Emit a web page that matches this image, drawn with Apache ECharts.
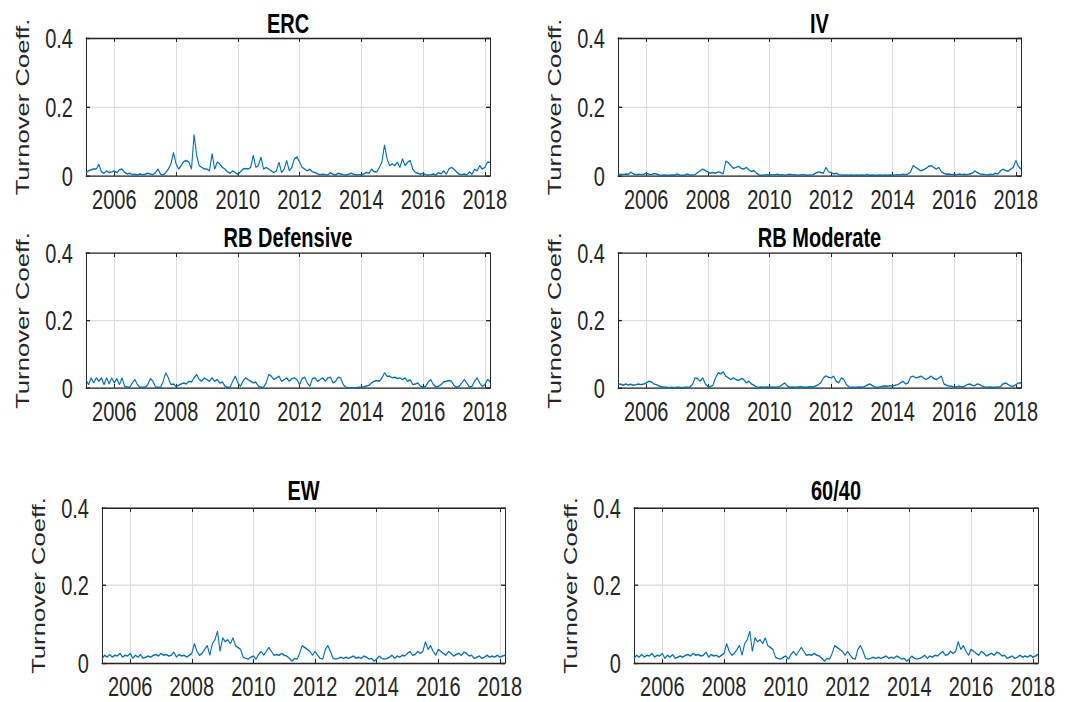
<!DOCTYPE html>
<html>
<head>
<meta charset="utf-8">
<title>Turnover Coefficient</title>
<script src="https://cdn.jsdelivr.net/npm/echarts@6/dist/echarts.min.js"></script>
<style>
  html { overflow: hidden; }
  html, body { margin: 0; padding: 0; background: #fff; width: 1065px; height: 702px; }
  /* the reference figure is stretched vertically, so lay out short and stretch */
  #main { width: 1065px; height: 520px; transform: scaleY(1.35); transform-origin: 0 0; }
</style>
</head>
<body>
<div id="main"></div>
<script>
// monthly turnover, first observation Feb 2005, last Mar 2018
const startYear = 2005;
const startMonth = 2;
const xMin = 2005 + 1 / 12;
const xMax = 2018 + 2 / 12;
const yTicks = [0, 0.2, 0.4];
const titles = ['ERC', 'IV', 'RB Defensive', 'RB Moderate', 'EW', '60/40'];
const yName = 'Turnover Coeff.';

const erc = [
  0.010, 0.015, 0.018, 0.020, 0.020, 0.034, 0.012, 0.008, 0.015, 0.010, 0.012,
  0.015, 0.010, 0.018, 0.020, 0.010, 0.006, 0.008, 0.004, 0.005, 0.003, 0.006, 0.004,
  0.005, 0.008, 0.006, 0.004, 0.010, 0.020, 0.005, 0.003, 0.010, 0.020, 0.035, 0.068,
  0.035, 0.020, 0.030, 0.042, 0.045, 0.040, 0.020, 0.120, 0.060, 0.030, 0.025, 0.020,
  0.020, 0.015, 0.065, 0.020, 0.040, 0.035, 0.025, 0.020, 0.012, 0.008, 0.015, 0.010,
  0.005, 0.012, 0.020, 0.022, 0.020, 0.025, 0.060, 0.025, 0.030, 0.055, 0.020, 0.025,
  0.020, 0.015, 0.010, 0.015, 0.040, 0.010, 0.020, 0.045, 0.015, 0.025, 0.050, 0.055,
  0.040, 0.025, 0.020, 0.015, 0.020, 0.012, 0.010, 0.006, 0.004, 0.005, 0.004, 0.003,
  0.010, 0.005, 0.003, 0.008, 0.006, 0.004, 0.003, 0.005, 0.008, 0.005, 0.003, 0.004,
  0.004, 0.006, 0.010, 0.008, 0.020, 0.012, 0.012, 0.025, 0.040, 0.090, 0.050, 0.030,
  0.035, 0.030, 0.040, 0.025, 0.050, 0.030, 0.040, 0.045, 0.020, 0.010, 0.008, 0.005,
  0.008, 0.004, 0.003, 0.004, 0.006, 0.003, 0.010, 0.006, 0.015, 0.005, 0.020, 0.025,
  0.020, 0.012, 0.005, 0.004, 0.006, 0.003, 0.012, 0.005, 0.020, 0.015, 0.030, 0.020,
  0.025, 0.040, 0.040
];

const iv = [
  0.004, 0.005, 0.004, 0.006, 0.005, 0.011, 0.006, 0.004, 0.005, 0.004, 0.005,
  0.008, 0.005, 0.004, 0.007, 0.006, 0.003, 0.002, 0.003, 0.002, 0.002, 0.003, 0.002,
  0.006, 0.003, 0.002, 0.002, 0.006, 0.002, 0.003, 0.004, 0.010, 0.015, 0.020, 0.016,
  0.012, 0.008, 0.010, 0.008, 0.012, 0.010, 0.006, 0.043, 0.038, 0.030, 0.022, 0.025,
  0.028, 0.022, 0.020, 0.025, 0.018, 0.013, 0.016, 0.008, 0.003, 0.002, 0.003, 0.004,
  0.003, 0.004, 0.003, 0.005, 0.003, 0.004, 0.002, 0.004, 0.005, 0.003, 0.004, 0.002,
  0.003, 0.004, 0.003, 0.002, 0.003, 0.004, 0.008, 0.012, 0.010, 0.008, 0.025, 0.012,
  0.010, 0.006, 0.008, 0.004, 0.003, 0.002, 0.003, 0.002, 0.003, 0.002, 0.003, 0.002,
  0.003, 0.002, 0.004, 0.002, 0.003, 0.002, 0.002, 0.003, 0.002, 0.003, 0.002, 0.003,
  0.002, 0.003, 0.004, 0.003, 0.005, 0.004, 0.006, 0.012, 0.030, 0.025, 0.020, 0.015,
  0.018, 0.022, 0.028, 0.030, 0.025, 0.020, 0.025, 0.012, 0.008, 0.005, 0.006, 0.004,
  0.005, 0.004, 0.006, 0.004, 0.005, 0.004, 0.006, 0.008, 0.015, 0.010, 0.006, 0.005,
  0.004, 0.003, 0.005, 0.004, 0.008, 0.006, 0.015, 0.020, 0.016, 0.014, 0.020, 0.025,
  0.045, 0.028, 0.020
];

const rbDefensive = [
  0.025, 0.010, 0.030, 0.015, 0.030, 0.020, 0.030, 0.010, 0.030, 0.012, 0.030,
  0.015, 0.028, 0.010, 0.030, 0.005, 0.003, 0.002, 0.015, 0.025, 0.010, 0.002, 0.002,
  0.002, 0.010, 0.028, 0.020, 0.003, 0.002, 0.002, 0.020, 0.045, 0.030, 0.010, 0.012,
  0.005, 0.008, 0.012, 0.015, 0.012, 0.020, 0.018, 0.030, 0.040, 0.025, 0.020, 0.030,
  0.025, 0.020, 0.030, 0.020, 0.025, 0.015, 0.018, 0.005, 0.002, 0.002, 0.020, 0.035,
  0.015, 0.005, 0.020, 0.030, 0.025, 0.020, 0.015, 0.018, 0.005, 0.002, 0.003, 0.015,
  0.040, 0.035, 0.025, 0.030, 0.035, 0.020, 0.025, 0.030, 0.020, 0.028, 0.030, 0.025,
  0.010, 0.028, 0.032, 0.015, 0.005, 0.028, 0.030, 0.020, 0.025, 0.030, 0.020, 0.030,
  0.032, 0.015, 0.020, 0.032, 0.030, 0.010, 0.002, 0.001, 0.001, 0.001, 0.001, 0.002,
  0.002, 0.004, 0.006, 0.008, 0.015, 0.020, 0.022, 0.020, 0.030, 0.045, 0.035, 0.035,
  0.030, 0.032, 0.028, 0.030, 0.025, 0.030, 0.020, 0.025, 0.010, 0.012, 0.015, 0.005,
  0.002, 0.005, 0.018, 0.025, 0.010, 0.003, 0.005, 0.010, 0.018, 0.020, 0.022, 0.020,
  0.008, 0.002, 0.005, 0.015, 0.025, 0.015, 0.003, 0.005, 0.020, 0.030, 0.015, 0.005,
  0.010, 0.025, 0.020
];

const rbModerate = [
  0.010, 0.012, 0.008, 0.012, 0.009, 0.011, 0.008, 0.010, 0.012, 0.010, 0.012,
  0.015, 0.020, 0.018, 0.012, 0.010, 0.006, 0.004, 0.002, 0.002, 0.001, 0.002, 0.001,
  0.002, 0.002, 0.001, 0.002, 0.002, 0.003, 0.010, 0.030, 0.028, 0.020, 0.030, 0.012,
  0.005, 0.004, 0.008, 0.030, 0.045, 0.042, 0.048, 0.035, 0.030, 0.025, 0.030, 0.025,
  0.022, 0.028, 0.025, 0.015, 0.020, 0.012, 0.008, 0.003, 0.002, 0.003, 0.002, 0.003,
  0.002, 0.003, 0.002, 0.003, 0.004, 0.010, 0.015, 0.005, 0.002, 0.003, 0.002, 0.003,
  0.004, 0.003, 0.002, 0.003, 0.004, 0.003, 0.006, 0.010, 0.015, 0.030, 0.036, 0.032,
  0.030, 0.035, 0.020, 0.015, 0.030, 0.025, 0.010, 0.003, 0.002, 0.002, 0.002, 0.003,
  0.002, 0.004, 0.008, 0.012, 0.008, 0.003, 0.002, 0.003, 0.005, 0.006, 0.005, 0.007,
  0.006, 0.008, 0.010, 0.015, 0.020, 0.012, 0.015, 0.033, 0.035, 0.030, 0.032, 0.035,
  0.030, 0.025, 0.030, 0.035, 0.028, 0.025, 0.030, 0.035, 0.012, 0.008, 0.006, 0.005,
  0.003, 0.004, 0.005, 0.003, 0.005, 0.010, 0.012, 0.008, 0.007, 0.012, 0.010, 0.005,
  0.003, 0.002, 0.003, 0.002, 0.002, 0.003, 0.004, 0.012, 0.015, 0.010, 0.006, 0.005,
  0.010, 0.015, 0.015
];

const ew = [
  0.010, 0.020, 0.015, 0.022, 0.015, 0.020, 0.018, 0.025, 0.015, 0.020, 0.018,
  0.025, 0.012, 0.020, 0.015, 0.022, 0.012, 0.015, 0.018, 0.015, 0.020, 0.022, 0.018,
  0.025, 0.020, 0.022, 0.018, 0.020, 0.028, 0.015, 0.022, 0.018, 0.020, 0.015, 0.020,
  0.025, 0.050, 0.030, 0.020, 0.025, 0.035, 0.045, 0.020, 0.050, 0.060, 0.082, 0.030,
  0.065, 0.055, 0.060, 0.050, 0.065, 0.045, 0.040, 0.035, 0.015, 0.012, 0.010, 0.015,
  0.018, 0.010, 0.022, 0.030, 0.020, 0.030, 0.040, 0.030, 0.020, 0.022, 0.020, 0.025,
  0.020, 0.018, 0.012, 0.005, 0.012, 0.010, 0.025, 0.045, 0.040, 0.035, 0.030, 0.020,
  0.030, 0.020, 0.012, 0.010, 0.035, 0.045, 0.030, 0.012, 0.010, 0.012, 0.015, 0.012,
  0.015, 0.012, 0.015, 0.018, 0.012, 0.015, 0.012, 0.018, 0.015, 0.010, 0.012, 0.005,
  0.010, 0.018, 0.012, 0.010, 0.012, 0.015, 0.020, 0.012, 0.018, 0.015, 0.020, 0.018,
  0.025, 0.030, 0.020, 0.022, 0.030, 0.025, 0.030, 0.055, 0.035, 0.045, 0.030, 0.020,
  0.035, 0.030, 0.025, 0.020, 0.030, 0.025, 0.018, 0.022, 0.025, 0.020, 0.028, 0.025,
  0.018, 0.020, 0.012, 0.015, 0.018, 0.012, 0.015, 0.020, 0.015, 0.018, 0.015, 0.020,
  0.015, 0.018, 0.020
];

const sixtyForty = [
  0.012, 0.020, 0.015, 0.022, 0.015, 0.020, 0.018, 0.025, 0.015, 0.020, 0.018,
  0.025, 0.012, 0.020, 0.015, 0.022, 0.012, 0.015, 0.018, 0.015, 0.020, 0.022, 0.018,
  0.025, 0.020, 0.022, 0.018, 0.020, 0.028, 0.015, 0.022, 0.018, 0.020, 0.015, 0.020,
  0.025, 0.050, 0.030, 0.020, 0.025, 0.035, 0.045, 0.020, 0.050, 0.060, 0.082, 0.030,
  0.065, 0.055, 0.060, 0.050, 0.065, 0.045, 0.040, 0.035, 0.015, 0.012, 0.010, 0.015,
  0.018, 0.010, 0.022, 0.030, 0.020, 0.030, 0.040, 0.030, 0.020, 0.022, 0.020, 0.025,
  0.020, 0.018, 0.012, 0.005, 0.012, 0.010, 0.025, 0.045, 0.040, 0.035, 0.030, 0.020,
  0.030, 0.020, 0.012, 0.010, 0.035, 0.045, 0.030, 0.012, 0.010, 0.012, 0.015, 0.012,
  0.015, 0.012, 0.015, 0.018, 0.012, 0.015, 0.012, 0.018, 0.015, 0.010, 0.012, 0.005,
  0.010, 0.018, 0.012, 0.010, 0.012, 0.015, 0.020, 0.012, 0.018, 0.015, 0.020, 0.018,
  0.025, 0.030, 0.020, 0.022, 0.030, 0.025, 0.030, 0.055, 0.035, 0.045, 0.030, 0.020,
  0.035, 0.030, 0.025, 0.020, 0.030, 0.025, 0.018, 0.022, 0.025, 0.020, 0.028, 0.025,
  0.018, 0.020, 0.012, 0.015, 0.018, 0.012, 0.015, 0.020, 0.015, 0.018, 0.015, 0.020,
  0.015, 0.018, 0.022
];

const seriesData = [erc, iv, rbDefensive, rbModerate, ew, sixtyForty];

// layout, in pixels of the final (stretched) picture
const K = 1.35;
const sy = v => v / K;
const boxes = [
  { left: 86,  top: 38,  width: 404, height: 138, titleY: 23 },
  { left: 618, top: 38,  width: 403, height: 138, titleY: 23 },
  { left: 86,  top: 253, width: 404, height: 135, titleY: 237 },
  { left: 618, top: 253, width: 403, height: 135, titleY: 237 },
  { left: 102, top: 508, width: 403, height: 155, titleY: 490 },
  { left: 634, top: 508, width: 404, height: 155, titleY: 490 }
];

const ink = '#262626';
const font = 'Liberation Sans, Arial, Helvetica, sans-serif';

function toPoints(vals) {
  return vals.map((v, i) => [startYear + (startMonth - 1 + i) / 12, v]);
}

const grid = [], xAxis = [], yAxis = [], series = [], graphic = [];

boxes.forEach((b, i) => {
  grid.push({
    left: b.left, top: sy(b.top), width: b.width, height: sy(b.height),
    outerBoundsMode: 'none', containLabel: false
  });
  const xBase = {
    type: 'value', gridIndex: i, min: xMin, max: xMax, splitNumber: 6,
    axisLine: { show: true, onZero: false, lineStyle: { color: ink, width: 1 } },
    axisTick: { show: true, inside: true, length: 3, lineStyle: { color: ink } }
  };
  xAxis.push(Object.assign({}, xBase, {
    position: 'bottom',
    axisLabel: {
      color: ink, fontSize: 20, fontFamily: font, margin: 7,
      formatter: v => (Math.abs(v - Math.round(v)) < 1e-6 ? String(Math.round(v)) : '')
    },
    splitLine: { show: true, lineStyle: { color: '#dedede', width: 1 } }
  }));
  xAxis.push(Object.assign({}, xBase, {
    position: 'top', axisLabel: { show: false }, splitLine: { show: false }
  }));
  const yBase = {
    type: 'value', gridIndex: i, min: yTicks[0], max: yTicks[yTicks.length - 1], interval: 0.2,
    axisLine: { show: true, onZero: false, lineStyle: { color: ink, width: 1 } },
    axisTick: { show: true, inside: true, length: 4, lineStyle: { color: ink } }
  };
  yAxis.push(Object.assign({}, yBase, {
    position: 'left',
    name: yName, nameLocation: 'middle', nameGap: 54,
    nameTextStyle: { color: ink, fontSize: 19, fontFamily: font },
    axisLabel: { color: ink, fontSize: 20, fontFamily: font, margin: 13 },
    splitLine: { show: true, lineStyle: { color: '#dedede', width: 1 } }
  }));
  yAxis.push(Object.assign({}, yBase, {
    position: 'right', axisLabel: { show: false }, splitLine: { show: false }
  }));
  series.push({
    type: 'line', name: titles[i], xAxisIndex: 2 * i, yAxisIndex: 2 * i,
    data: toPoints(seriesData[i]), showSymbol: false, symbol: 'none',
    lineStyle: { color: '#0072BD', width: 1.1 }, silent: true
  });
  graphic.push({
    type: 'text', x: b.left + b.width / 2, y: sy(b.titleY),
    style: {
      text: titles[i], fill: '#000', font: 'bold 20px ' + font,
      textAlign: 'center', textVerticalAlign: 'middle'
    }
  });
});

const myChart = echarts.init(document.getElementById('main'), null, { renderer: 'svg' });
myChart.setOption({
  animation: false,
  backgroundColor: '#fff',
  grid: grid,
  xAxis: xAxis,
  yAxis: yAxis,
  series: series,
  graphic: graphic
});
</script>
</body>
</html>
